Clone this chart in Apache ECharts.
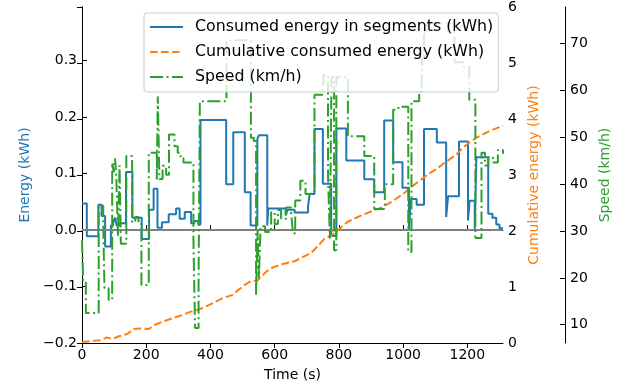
<!DOCTYPE html>
<html>
<head>
<meta charset="utf-8">
<script src="https://cdn.jsdelivr.net/npm/echarts@6/dist/echarts.min.js"></script>
<style>
    html, body { margin: 0; padding: 0; background: #fff; }
    #chart { width: 629px; height: 389px; }
</style>
</head>
<body>
<div id="chart"></div>
<script>
// [time (s), value] pairs, each value holds until the next time
const segmentEnergy = [
    [0, 0.047], [15, -0.011], [51, 0.045], [61, 0.025], [72, -0.029], [90, 0.008], [97, 0.013],
    [103, 0.022], [108, 0.008], [117, 0.012], [137, 0.103], [157, 0.022], [186, -0.016], [209, 0.036],
    [223, 0.073], [235, 0.004], [249, 0.014], [270, 0.028], [293, 0.038], [304, 0.020],
    [320, 0.032], [340, 0.012], [350, 0.016], [362, 0.010], [369, 0.195], [449, 0.081], [471, 0.173],
    [507, 0.067], [525, 0.008], [546, 0.161], [551, 0.168], [577, 0.008], [580, 0.038], [634, 0.026],
    [640, 0.036], [662, 0.031], [704, 0.043], [709, 0.064], [724, 0.179], [750, 0.082], [776, -0.010],
    [792, 0.180], [823, 0.123], [879, 0.090], [910, 0.067], [941, 0.194], [969, 0.120], [998, 0.075],
    [1018, 0.000], [1024, 0.055], [1042, 0.045], [1065, 0.179], [1105, 0.155], [1134, 0.023],
    [1140, 0.060], [1174, 0.157], [1202, 0.017], [1207, 0.052], [1223, 0.001], [1228, 0.129],
    [1265, 0.029], [1278, 0.022], [1290, 0.010], [1300, 0.003], [1311, 0.003]
];

const cumulativeEnergy = [
    [0, 0.02], [57, 0.05], [78, 0.10], [94, 0.07], [115, 0.12], [141, 0.16], [161, 0.25], [182, 0.26],
    [208, 0.25], [229, 0.33], [250, 0.38], [281, 0.44], [313, 0.50], [339, 0.56], [365, 0.60],
    [396, 0.68], [438, 0.80], [469, 0.86], [500, 1.01], [521, 1.09], [547, 1.12], [573, 1.27],
    [594, 1.35], [625, 1.41], [662, 1.46], [714, 1.61], [755, 1.86], [787, 1.96], [800, 2.03],
    [829, 2.17], [870, 2.28], [933, 2.42], [964, 2.52], [995, 2.64], [1040, 2.85], [1079, 3.02],
    [1105, 3.11], [1120, 3.18], [1167, 3.37], [1183, 3.47], [1204, 3.57], [1230, 3.67], [1271, 3.79],
    [1311, 3.88]
];

const speed = [
    [0, 28], [4, 19], [12, 12.5], [52, 35.4], [66, 31.5], [70, 17.8], [83, 15.3], [94, 44.6],
    [99, 42.5], [103, 45.5], [107, 41], [112, 29], [117, 44], [121, 27.3], [138, 46], [156, 31.9],
    [166, 33], [176, 31.5], [185, 18.5], [208, 46.7], [233, 41], [236, 58.7], [241, 41.1], [251, 43.9],
    [262, 42], [271, 50.6], [288, 48.1], [298, 46.7], [307, 45.5], [316, 44.6], [347, 28], [352, 9.3],
    [363, 20], [367, 57.7], [450, 70.7], [526, 49.9], [535, 49.2], [542, 16.4], [547, 30], [551, 20],
    [556, 31], [570, 29.8], [589, 34], [600, 31.5], [610, 34.5], [620, 32.6], [636, 35], [651, 34],
    [657, 29.5], [664, 36.5], [680, 40.7], [696, 37.9], [714, 38.5], [724, 59.1], [751, 63.3],
    [766, 42], [772, 28.4], [777, 62.8], [785, 25.9], [792, 62.8], [828, 50.2], [879, 46],
    [910, 34.7], [943, 40], [969, 55.9], [985, 56.5], [1016, 25.5], [1026, 57.7], [1050, 59.8],
    [1058, 66.8], [1065, 72], [1073, 74.3], [1140, 72.5], [1160, 66], [1189, 65], [1206, 58],
    [1225, 28.5], [1244, 46.7], [1255, 44], [1265, 45.8], [1280, 44.6], [1295, 47.3], [1311, 46.5]
];

const timeTicks = [0, 200, 400, 600, 800, 1000, 1200];
const energyTicks = [-0.2, -0.1, 0, 0.1, 0.2, 0.3];
const speedTicks = [10, 20, 30, 40, 50, 60, 70];
const zeroLine = [[0, 0], [1311, 0]];

const BLUE = "#1f77b4";
const ORANGE = "#ff7f0e";
const GREEN = "#2ca02c";
const FONT = "DejaVu Sans";

const minus = (s) => s.replace("-", "\u2212");

const chart = echarts.init(document.getElementById("chart"), null, { renderer: "canvas" });

const axisBase = {
    axisLine: { show: true, lineStyle: { color: "#000", width: 1 } },
    axisTick: { show: true, inside: true, length: 5, lineStyle: { color: "#000" } },
    axisLabel: { color: "#000", fontFamily: FONT, fontSize: 14, margin: 5 },
    splitLine: { show: false },
};

const option = {
    animation: false,
    backgroundColor: "#fff",
    textStyle: { fontFamily: FONT },
    grid: { left: 82, right: 126, top: 5, bottom: 46, containLabel: false },
    legend: {
        orient: "vertical",
        left: 144,
        top: 13,
        padding: [6, 5, 7, 5],
        itemWidth: 33,
        itemHeight: 14,
        itemGap: 9,
        backgroundColor: "rgba(255,255,255,0.8)",
        borderColor: "#cccccc",
        borderWidth: 1,
        borderRadius: 3,
        z: 10,
        itemStyle: { opacity: 0 },
        textStyle: { color: "#000", fontFamily: FONT, fontSize: 15.8, padding: [0, 0, 0, 7] },
        data: ["Consumed energy in segments (kWh)", "Cumulative consumed energy (kWh)", "Speed (km/h)"],
    },
    xAxis: [
        {
            ...axisBase,
            type: "value",
            position: "bottom",
            min: 0,
            max: 1311,
            axisTick: { ...axisBase.axisTick, customValues: timeTicks },
            axisLabel: { ...axisBase.axisLabel, customValues: timeTicks, formatter: (v) => String(v) },
            name: "Time (s)",
            nameLocation: "middle",
            nameGap: 25,
            nameTextStyle: { color: "#000", fontFamily: FONT, fontSize: 14 },
        },
        {
            ...axisBase,
            type: "value",
            position: "top",
            min: 0,
            max: 1311,
            axisTick: { ...axisBase.axisTick, customValues: timeTicks },
            axisLabel: { show: false },
        },
    ],
    yAxis: [
        {
            ...axisBase,
            type: "value",
            position: "left",
            min: -0.2,
            max: 0.395,
            axisTick: { ...axisBase.axisTick, customValues: energyTicks },
            axisLabel: {
                ...axisBase.axisLabel,
                customValues: energyTicks,
                formatter: (v) => minus(v.toFixed(1)),
            },
            name: "Energy (kWh)",
            nameLocation: "middle",
            nameGap: 50,
            nameRotate: 90,
            nameTextStyle: { color: BLUE, fontFamily: FONT, fontSize: 14 },
        },
        {
            ...axisBase,
            type: "value",
            position: "right",
            min: 0,
            max: 6,
            interval: 1,
            name: "Cumulative energy (kWh)",
            nameLocation: "middle",
            nameGap: 22,
            nameRotate: 90,
            nameTextStyle: { color: ORANGE, fontFamily: FONT, fontSize: 14 },
        },
        {
            ...axisBase,
            type: "value",
            position: "right",
            offset: 62,
            min: 6.1,
            max: 77.8,
            axisTick: { ...axisBase.axisTick, customValues: speedTicks },
            axisLabel: { ...axisBase.axisLabel, customValues: speedTicks },
            name: "Speed (km/h)",
            nameLocation: "middle",
            nameGap: 33,
            nameRotate: 90,
            nameTextStyle: { color: GREEN, fontFamily: FONT, fontSize: 14 },
        },
    ],
    series: [
        {
            name: "Consumed energy in segments (kWh)",
            type: "line",
            step: "end",
            xAxisIndex: 0,
            yAxisIndex: 0,
            symbol: "none",
            z: 2,
            color: BLUE,
            lineStyle: { color: BLUE, width: 2 },
            data: segmentEnergy,
        },
        {
            name: "zero",
            type: "line",
            yAxisIndex: 0,
            symbol: "none",
            silent: true,
            z: 2,
            lineStyle: { color: "#808080", width: 2 },
            data: zeroLine,
        },
        {
            name: "Cumulative consumed energy (kWh)",
            type: "line",
            yAxisIndex: 1,
            symbol: "none",
            z: 3,
            color: ORANGE,
            lineStyle: { color: ORANGE, width: 2, type: [7.7, 3.3] },
            data: cumulativeEnergy,
        },
        {
            name: "Speed (km/h)",
            type: "line",
            step: "end",
            yAxisIndex: 2,
            symbol: "none",
            z: 4,
            color: GREEN,
            lineStyle: { color: GREEN, width: 2, type: [13, 3.5, 2, 3.5] },
            data: speed,
        },
    ],
};

chart.setOption(option);
</script>
</body>
</html>
